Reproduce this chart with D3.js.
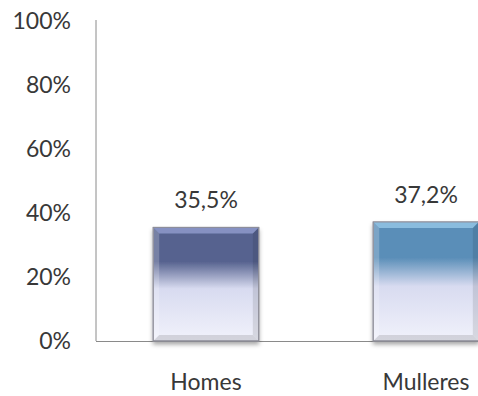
<!DOCTYPE html>
<html><head><meta charset="utf-8">
<script src="https://cdn.jsdelivr.net/npm/d3@7"></script>
<style>html,body{margin:0;padding:0;background:#fff;}svg{display:block;font-family:Lato,"Open Sans",sans-serif;}</style>
</head><body>
<script>
const categories = ["Homes", "Mulleres"];
const values = [35.5, 37.2];
const valueLabels = ["35,5%", "37,2%"];
const tickValues = [0, 20, 40, 60, 80, 100];
const tickLabels = ["0%", "20%", "40%", "60%", "80%", "100%"];
const darkColors = ["#56628f", "#5a8eb8"];
const bevelColors = ["#8e9acb", "#93c4e4"];

const W = 478, H = 396;
const svg = d3.select("body").append("svg").attr("width", W).attr("height", H);
const defs = svg.append("defs");

const x = d3.scaleBand().domain(categories).range([96, 536]).paddingInner(0.52).paddingOuter(0.26);
const y = d3.scaleLinear().domain([0, 100]).range([341, 21]);

const f = defs.append("filter").attr("id", "sh").attr("x", "-20%").attr("y", "-20%").attr("width", "140%").attr("height", "140%");
f.append("feDropShadow").attr("dx", 0).attr("dy", 3).attr("stdDeviation", 2).attr("flood-color", "#000").attr("flood-opacity", 0.35);

categories.forEach((c, i) => {
  const g = defs.append("linearGradient").attr("id", "g" + i).attr("x1", 0).attr("y1", 0).attr("x2", 0).attr("y2", 1);
  g.append("stop").attr("offset", "0%").attr("stop-color", darkColors[i]);
  g.append("stop").attr("offset", "30%").attr("stop-color", darkColors[i]);
  g.append("stop").attr("offset", "54%").attr("stop-color", "#d8dbf0");
  g.append("stop").attr("offset", "100%").attr("stop-color", "#f1f2fb");
});

// axes
svg.append("line").attr("x1", 96).attr("x2", 96).attr("y1", y(100) - 1).attr("y2", y(0)).attr("stroke", "#8a8a8a").attr("stroke-width", 1);
svg.append("line").attr("x1", 96).attr("x2", W).attr("y1", y(0) + 0.5).attr("y2", y(0) + 0.5).attr("stroke", "#8a8a8a").attr("stroke-width", 1);

const txt = "#383838";
// tick labels
svg.selectAll("text.tick").data(tickValues).enter().append("text")
  .attr("class", "tick")
  .attr("x", 71).attr("y", d => y(d)).attr("dy", "0.36em")
  .attr("text-anchor", "end").attr("font-size", 23).attr("fill", txt)
  .text((d, i) => tickLabels[i]);

const bw = x.bandwidth();
const b = 6;
categories.forEach((c, i) => {
  const x0 = x(c), x1 = x0 + bw, y0 = y(values[i]), y1 = y(0);
  const grp = svg.append("g");
  grp.append("rect").attr("x", x0).attr("y", y0).attr("width", bw).attr("height", y1 - y0)
    .attr("fill", "url(#g" + i + ")").attr("stroke", "#9a9aa6").attr("stroke-width", 1).attr("filter", "url(#sh)");
  // bevels
  grp.append("path").attr("d", `M${x0},${y0}L${x1},${y0}L${x1 - b},${y0 + b}L${x0 + b},${y0 + b}Z`).attr("fill", bevelColors[i]).attr("opacity", 0.85);
  grp.append("path").attr("d", `M${x0},${y0}L${x0 + b},${y0 + b}L${x0 + b},${y1 - b}L${x0},${y1}Z`).attr("fill", "#fff").attr("opacity", 0.2);
  grp.append("path").attr("d", `M${x1},${y0}L${x1 - b},${y0 + b}L${x1 - b},${y1 - b}L${x1},${y1}Z`).attr("fill", "#000").attr("opacity", 0.1);
  grp.append("path").attr("d", `M${x0},${y1}L${x0 + b},${y1 - b}L${x1 - b},${y1 - b}L${x1},${y1}Z`).attr("fill", "#000").attr("opacity", 0.12);
  grp.append("rect").attr("x", x0).attr("y", y0).attr("width", bw).attr("height", y1 - y0)
    .attr("fill", "none").attr("stroke", "#8d8d98").attr("stroke-width", 1);
  // value label
  svg.append("text").attr("x", x0 + bw / 2).attr("y", y0 - 19).attr("text-anchor", "middle")
    .attr("font-size", 23).attr("fill", txt).text(valueLabels[i]);
  // category label
  svg.append("text").attr("x", x0 + bw / 2).attr("y", 390).attr("text-anchor", "middle")
    .attr("font-size", 23).attr("fill", txt).text(c);
});
</script>
</body></html>
